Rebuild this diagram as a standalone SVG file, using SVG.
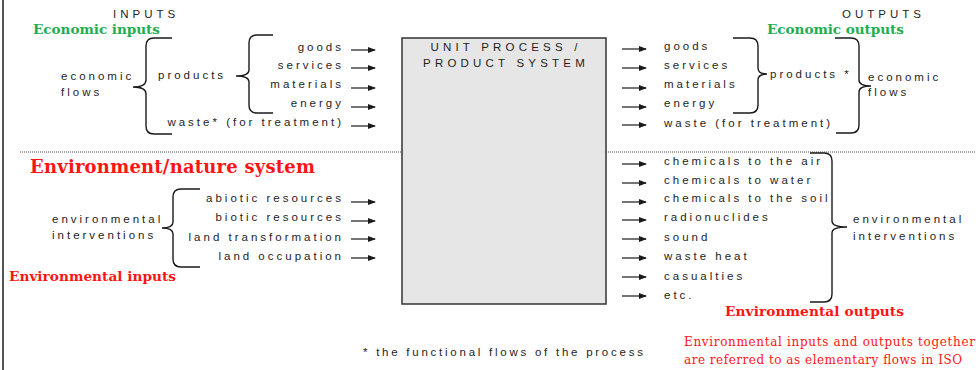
<svg xmlns="http://www.w3.org/2000/svg" width="976" height="370" viewBox="0 0 976 370">
  <defs>
    <marker id="head" markerWidth="8" markerHeight="6" refX="7" refY="3" orient="auto" markerUnits="userSpaceOnUse">
      <path d="M0,0 L8,3 L0,6 Z" fill="#1a1a1a"/>
    </marker>
    <style>
      .t { font-family: "Liberation Sans", Arial, sans-serif; font-size: 11.5px; letter-spacing: 3px; fill: #1e1e1e; }
      .cap { letter-spacing: 4px; }
      .box-title { letter-spacing: 4.2px; }
      .foot { letter-spacing: 2.75px; }
      .end { text-anchor: end; }
      .mid { text-anchor: middle; }
      .green { font-family: "DejaVu Serif", "Liberation Serif", serif; font-weight: bold; font-size: 13.6px; fill: #1fae4f; }
      .red { font-family: "DejaVu Serif", "Liberation Serif", serif; font-weight: bold; fill: #ff1414; }
      .note { font-family: "DejaVu Serif", "Liberation Serif", serif; font-size: 12px; fill: #ff1414; }
      .arrow { stroke: #1a1a1a; stroke-width: 1.2; fill: none; marker-end: url(#head); }
      .brace { stroke: #1a1a1a; stroke-width: 1.4; fill: none; }
    </style>
  </defs>

  <!-- page edge -->
  <line x1="3" y1="0" x2="3" y2="370" stroke="#555" stroke-width="2"/>

  <!-- divider between economy and environment -->
  <line x1="20" y1="152" x2="976" y2="152" stroke="#444" stroke-width="1" stroke-dasharray="1 1"/>

  <!-- central process box -->
  <g id="unit-process">
    <rect x="402" y="38" width="204" height="266" fill="#e6e6e6" stroke="#333" stroke-width="1.5"/>
    <text class="t box-title mid" x="506" y="51">UNIT PROCESS /</text>
    <text class="t box-title mid" x="506" y="67">PRODUCT SYSTEM</text>
  </g>

  <!-- section headings -->
  <g id="headings">
    <text class="t cap" x="113" y="18">INPUTS</text>
    <text class="green" x="33" y="34" textLength="127">Economic inputs</text>
    <text class="t cap" x="842" y="18">OUTPUTS</text>
    <text class="green" x="767" y="34" textLength="137">Economic outputs</text>
    <text class="red" x="30" y="173" font-size="18" textLength="285">Environment/nature system</text>
    <text class="red" x="9" y="281" font-size="13.7" textLength="167">Environmental inputs</text>
    <text class="red" x="725" y="316" font-size="13.7" textLength="179">Environmental outputs</text>
  </g>

  <!-- economic inputs -->
  <g id="economic-inputs">
    <text class="t" x="61" y="80">economic</text>
    <text class="t" x="61" y="96">flows</text>
    <text class="t" x="158" y="79">products</text>
    <text class="t end" x="344" y="51">goods</text>
    <text class="t end" x="344" y="69">services</text>
    <text class="t end" x="344" y="88">materials</text>
    <text class="t end" x="344" y="107">energy</text>
    <text class="t end" x="344" y="126">waste* (for treatment)</text>
  </g>

  <!-- economic outputs -->
  <g id="economic-outputs">
    <text class="t" x="664" y="50">goods</text>
    <text class="t" x="664" y="69">services</text>
    <text class="t" x="664" y="88">materials</text>
    <text class="t" x="664" y="107">energy</text>
    <text class="t" x="664" y="127">waste (for treatment)</text>
    <text class="t" x="770" y="78">products *</text>
    <text class="t" x="868" y="81">economic</text>
    <text class="t" x="868" y="96">flows</text>
  </g>

  <!-- environmental inputs -->
  <g id="environmental-inputs">
    <text class="t" x="52" y="223">environmental</text>
    <text class="t" x="52" y="239">interventions</text>
    <text class="t end" x="344" y="202">abiotic resources</text>
    <text class="t end" x="344" y="221">biotic resources</text>
    <text class="t end" x="344" y="241">land transformation</text>
    <text class="t end" x="344" y="260">land occupation</text>
  </g>

  <!-- environmental outputs -->
  <g id="environmental-outputs">
    <text class="t" x="664" y="165">chemicals to the air</text>
    <text class="t" x="664" y="184">chemicals to water</text>
    <text class="t" x="664" y="202">chemicals to the soil</text>
    <text class="t" x="664" y="221">radionuclides</text>
    <text class="t" x="664" y="241">sound</text>
    <text class="t" x="664" y="260">waste heat</text>
    <text class="t" x="664" y="280">casualties</text>
    <text class="t" x="664" y="299">etc.</text>
    <text class="t" x="853" y="223">environmental</text>
    <text class="t" x="853" y="240">interventions</text>
  </g>

  <!-- footnotes -->
  <g id="notes">
    <text class="t foot" x="363" y="356">* the functional flows of the process</text>
    <text class="note" x="684" y="346" textLength="291">Environmental inputs and outputs together</text>
    <text class="note" x="684" y="364" textLength="278">are referred to as elementary flows in ISO</text>
  </g>

  <!-- connectors: braces and flow arrows -->
  <g id="connectors">
    <!-- left-facing braces -->
    <path class="brace" d="M172,38 H154 Q146,38 146,46 V80 Q146,87 133,87 Q146,87 146,94 V126 Q146,134 154,134 H172"/>
    <path class="brace" d="M273,35 H257 Q249,35 249,43 V70 Q249,76 236,76 Q249,76 249,82 V105 Q249,113 257,113 H273"/>
    <path class="brace" d="M200,189 H181 Q173,189 173,197 V222 Q173,228 162,228 Q173,228 173,234 V259 Q173,267 181,267 H200"/>
    <!-- right-facing braces -->
    <path class="brace" d="M733,38 H750 Q758,38 758,46 V68 Q758,74 767,74 Q758,74 758,80 V105 Q758,113 750,113 H733"/>
    <path class="brace" d="M835,38 H851 Q859,38 859,46 V80 Q859,86 871,86 Q859,86 859,92 V125 Q859,133 851,133 H836"/>
    <path class="brace" d="M810,153 H824 Q832,153 832,161 V221 Q832,227 847,227 Q832,227 832,233 V294 Q832,302 824,302 H810"/>

    <!-- input arrows -->
    <line class="arrow" x1="351" y1="50" x2="375" y2="50"/>
    <line class="arrow" x1="351" y1="68" x2="375" y2="68"/>
    <line class="arrow" x1="351" y1="88" x2="375" y2="88"/>
    <line class="arrow" x1="351" y1="107" x2="375" y2="107"/>
    <line class="arrow" x1="351" y1="126" x2="375" y2="126"/>
    <line class="arrow" x1="351" y1="202" x2="375" y2="202"/>
    <line class="arrow" x1="351" y1="221" x2="375" y2="221"/>
    <line class="arrow" x1="351" y1="239" x2="375" y2="239"/>
    <line class="arrow" x1="351" y1="258" x2="375" y2="258"/>

    <!-- output arrows -->
    <line class="arrow" x1="622" y1="49" x2="646" y2="49"/>
    <line class="arrow" x1="622" y1="68" x2="646" y2="68"/>
    <line class="arrow" x1="622" y1="88" x2="646" y2="88"/>
    <line class="arrow" x1="622" y1="107" x2="646" y2="107"/>
    <line class="arrow" x1="622" y1="125" x2="646" y2="125"/>
    <line class="arrow" x1="622" y1="164" x2="646" y2="164"/>
    <line class="arrow" x1="622" y1="183" x2="646" y2="183"/>
    <line class="arrow" x1="622" y1="202" x2="646" y2="202"/>
    <line class="arrow" x1="622" y1="220" x2="646" y2="220"/>
    <line class="arrow" x1="622" y1="239" x2="646" y2="239"/>
    <line class="arrow" x1="622" y1="258" x2="646" y2="258"/>
    <line class="arrow" x1="622" y1="277" x2="646" y2="277"/>
    <line class="arrow" x1="622" y1="296" x2="646" y2="296"/>
  </g>
</svg>
